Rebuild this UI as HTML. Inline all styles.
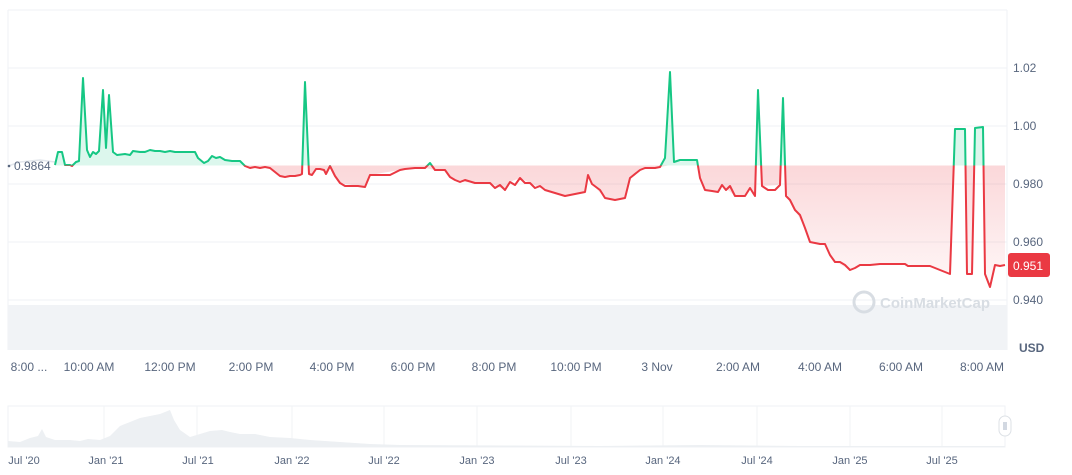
<!DOCTYPE html>
<html><head><meta charset="utf-8"><style>
body{margin:0;background:#fff;font-family:"Liberation Sans",sans-serif;}
svg text{font-family:"Liberation Sans",sans-serif;}
</style></head><body>
<svg width="1072" height="470" viewBox="0 0 1072 470" xmlns="http://www.w3.org/2000/svg">
<defs>
<linearGradient id="rg" x1="0" y1="165" x2="0" y2="300" gradientUnits="userSpaceOnUse"><stop offset="0" stop-color="#ea3943" stop-opacity="0.2"/><stop offset="1" stop-color="#ea3943" stop-opacity="0.02"/></linearGradient>
<clipPath id="up"><rect x="0" y="0" width="1072" height="165.5"/></clipPath>
<clipPath id="dn"><rect x="0" y="165.5" width="1072" height="300"/></clipPath>
<polyline id="ln" fill="none" stroke-width="2" stroke-linejoin="round" points="55,165 58,152 62,152 65,165 70,165 72,166 76,162 79,161 83,78 87,150 90,157 93,152 96,154 99,151 103,90 106,148 109,95 113,152 117,155 125,154 130,155 133,151 140,152 145,152 150,150 155,151 160,151 165,152 170,151 175,152 185,152 195,152 198,158 204,163 208,161 212,156 216,158 220,157 225,160 232,161 240,161 245,166 250,168 255,167 260,168 265,167 270,168 275,172 280,176 285,177 290,176 295,176 300,175 302,174 305,82 309,174 312,175 316,169 320,169 324,170 326,174 330,166 335,176 340,183 345,186 350,186 358,186 365,187 370,175 380,175 390,175 400,170 405,169 415,168 425,168 430,163 435,170 445,170 450,177 455,180 460,182 465,180 475,183 490,183 495,188 500,185 505,190 510,182 515,185 520,178 525,183 530,183 535,188 540,186 545,190 555,193 565,196 575,194 585,192 588,175 592,184 600,190 605,198 615,200 625,198 630,178 640,170 645,168 655,168 660,167 665,158 670,72 674,162 680,160 690,160 697,160 700,178 705,190 712,191 718,192 722,185 726,190 730,186 735,196 745,196 750,188 755,196 758,90 762,186 768,190 775,190 780,185 783,98 786,196 790,200 795,210 800,215 805,228 810,242 820,244 825,244 830,255 835,262 840,262 845,265 850,270 855,268 860,265 870,265 880,264 890,264 900,264 905,264 908,266 920,266 930,266 935,268 945,272 950,274 955,129 965,129 967,274 972,274 975,128 983,127 985,274 990,287 995,265 1000,266 1005,265"/>
</defs>
<line x1="8" y1="10" x2="1007" y2="10" stroke="#eff2f5"/>
<line x1="8" y1="10" x2="8" y2="350" stroke="#eff2f5"/>
<line x1="1007" y1="10" x2="1007" y2="350" stroke="#eff2f5"/>
<g stroke="#eff2f5"><line x1="8" y1="68" x2="1007" y2="68"/><line x1="8" y1="126" x2="1007" y2="126"/><line x1="8" y1="184" x2="1007" y2="184"/><line x1="8" y1="242" x2="1007" y2="242"/><line x1="8" y1="300" x2="1007" y2="300"/></g>
<rect x="8" y="305" width="999" height="45" fill="#f1f3f6"/>
<circle cx="864" cy="302" r="10" fill="none" stroke="#d8dde3" stroke-width="3"/>
<text x="880" y="308" font-size="15" font-weight="bold" fill="#d8dde3">CoinMarketCap</text>
<polyline points="8,166 20,162 40,160 55,162" fill="none" stroke="#e3e7ec" stroke-width="1.5"/>
<g clip-path="url(#up)"><polygon fill="#16c784" fill-opacity="0.15" points="55,165.5 55,165 58,152 62,152 65,165 70,165 76,162 79,161 83,78 87,150 90,157 93,152 96,154 99,151 103,90 106,148 109,95 113,152 117,155 125,154 130,155 133,151 150,150 175,152 195,152 198,158 204,163 208,161 212,156 225,160 240,161 245,166 300,175 302,174 305,82 309,174 316,169 320,169 330,166 335,176 365,187 370,175 390,175 400,170 425,168 430,163 435,170 445,170 630,178 640,170 660,167 665,158 670,72 674,162 697,160 700,178 755,196 758,90 762,186 780,185 783,98 786,196 950,274 955,129 965,129 967,274 972,274 975,128 983,127 985,274 1005,265 1005,165.5"/></g>
<g clip-path="url(#dn)"><polygon fill="url(#rg)" points="55,165.5 55,165 65,165 76,162 240,161 245,166 250,168 270,168 275,172 280,176 300,175 302,174 305,82 309,174 312,175 316,169 324,170 326,174 330,166 335,176 340,183 365,187 370,175 400,170 425,168 435,170 445,170 450,177 460,182 490,183 505,190 510,182 520,178 530,183 545,190 565,196 585,192 588,175 592,184 605,198 615,200 625,198 630,178 640,170 660,167 697,160 700,178 705,190 718,192 722,185 735,196 745,196 750,188 755,196 758,90 762,186 780,185 783,98 786,196 795,210 805,228 810,242 825,244 835,262 850,270 860,265 905,264 935,268 950,274 955,129 965,129 967,274 972,274 975,128 983,127 985,274 990,287 995,265 1005,265 1005,165.5"/></g>
<use href="#ln" stroke="#16c784" clip-path="url(#up)"/>
<use href="#ln" stroke="#ea3943" clip-path="url(#dn)"/>
<circle cx="9" cy="166" r="1.3" fill="#58667e"/>
<text x="14" y="170" font-size="12" fill="#58667e">0.9864</text>
<g font-size="12" fill="#58667e"><text x="1013" y="72">1.02</text><text x="1013" y="130">1.00</text><text x="1013" y="188">0.980</text><text x="1013" y="246">0.960</text><text x="1013" y="304">0.940</text></g>
<rect x="1008" y="253" width="42" height="24" rx="3" fill="#ea3943"/>
<text x="1013" y="270" font-size="12" fill="#fff">0.951</text>
<text x="1019" y="352" font-size="12" font-weight="bold" fill="#58667e">USD</text>
<g font-size="12" fill="#58667e" text-anchor="middle"><text x="29" y="371">8:00 ...</text><text x="89" y="371">10:00 AM</text><text x="170" y="371">12:00 PM</text><text x="251" y="371">2:00 PM</text><text x="332" y="371">4:00 PM</text><text x="413" y="371">6:00 PM</text><text x="494" y="371">8:00 PM</text><text x="576" y="371">10:00 PM</text><text x="657" y="371">3 Nov</text><text x="738" y="371">2:00 AM</text><text x="820" y="371">4:00 AM</text><text x="901" y="371">6:00 AM</text><text x="982" y="371">8:00 AM</text></g>
<rect x="8" y="406" width="997" height="41" fill="none" stroke="#eff2f5"/>
<g stroke="#f1f3f6"><line x1="104" y1="406" x2="104" y2="447"/><line x1="197" y1="406" x2="197" y2="447"/><line x1="292" y1="406" x2="292" y2="447"/><line x1="384" y1="406" x2="384" y2="447"/><line x1="477" y1="406" x2="477" y2="447"/><line x1="571" y1="406" x2="571" y2="447"/><line x1="663" y1="406" x2="663" y2="447"/><line x1="757" y1="406" x2="757" y2="447"/><line x1="850" y1="406" x2="850" y2="447"/><line x1="942" y1="406" x2="942" y2="447"/></g>
<polygon fill="#edf0f3" points="8,447 8,441 20,442 30,438 38,436 42,429 46,437 55,440 70,440 80,441 88,439 100,440 110,436 120,426 130,422 140,418 150,416 160,414 170,410 174,420 180,430 190,437 200,434 210,431 222,430 230,432 240,434 255,434 270,437 290,438 310,440 340,442 370,444 400,445 600,446 700,445 800,446 900,446 1005,446 1005,447"/>
<rect x="999" y="416" width="12" height="20" rx="6" fill="#fff" stroke="#dde1e6"/>
<line x1="1004" y1="422" x2="1004" y2="430" stroke="#a6b0c3"/><line x1="1006" y1="422" x2="1006" y2="430" stroke="#a6b0c3"/>
<g font-size="11" fill="#58667e" text-anchor="middle"><text x="24" y="464">Jul '20</text><text x="106" y="464">Jan '21</text><text x="198" y="464">Jul '21</text><text x="292" y="464">Jan '22</text><text x="384" y="464">Jul '22</text><text x="477" y="464">Jan '23</text><text x="571" y="464">Jul '23</text><text x="663" y="464">Jan '24</text><text x="757" y="464">Jul '24</text><text x="850" y="464">Jan '25</text><text x="942" y="464">Jul '25</text></g>
</svg>
</body></html>
